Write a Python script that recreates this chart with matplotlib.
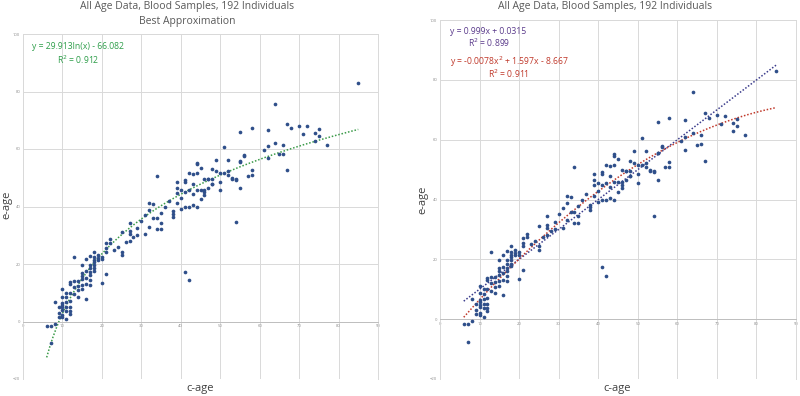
import numpy as np
import matplotlib.pyplot as plt

plt.rcParams['font.family'] = ['Open Sans', 'DejaVu Sans']

# chronological age (c-age) and epigenetic age (e-age)
c_age = [85, 64, 67, 68, 70, 72, 71, 74, 75, 75, 74, 77, 62, 58, 55, 62, 64, 66, 61, 62,
         66, 65, 67, 56, 55, 57, 58, 58, 55, 51, 49, 52, 48, 49, 50, 51, 52, 52, 53, 54,
         50, 50, 48, 47, 46, 45, 44, 44, 43, 42, 41, 41, 39, 39, 43, 44, 45, 46, 47, 42,
         40, 41, 43, 34, 39, 40,
         56, 55, 48, 48, 47, 46, 44, 53, 54,
         54, 41, 42, 44, 43, 42, 41, 40, 39, 38, 38, 38, 35, 35, 35, 34, 33, 34, 32, 32,
         33, 32, 31, 31, 29, 29, 27, 27, 27, 27, 25, 25, 25, 22, 22, 21, 21, 21, 20, 20,
         19, 21, 20,
         18, 18, 18, 18, 18, 18, 17, 17, 17, 17, 17, 16, 16, 16, 15, 15, 15, 15, 15, 14,
         14, 13, 13, 12, 12, 12, 12, 12, 12, 11, 11, 11, 11, 11, 10, 10, 10, 10, 10, 10,
         10, 9, 9, 8, 8, 7, 6, 7,
         17, 17, 16, 14, 13, 13, 19, 9, 10, 11, 12, 14, 16, 15, 18, 19,
         30, 36, 37, 28, 24, 26, 23, 45, 46]
e_age = [83.0, 75.8, 68.8, 67.3, 68.1, 67.9, 65.1, 65.5, 66.9, 64.5, 62.9, 61.4, 66.7, 67.4, 66.0, 60.9, 62.1, 61.5, 59.7, 56.7,
         58.4, 58.1, 52.8, 57.6, 55.6, 50.7, 50.9, 52.6, 46.5, 60.7, 56.2, 56.3, 52.9, 52.2, 51.6, 51.6, 52.3, 51.0, 49.6, 49.1,
         48.5, 45.6, 47.7, 49.4, 49.7, 53.5, 54.7, 51.5, 51.2, 51.6, 49.2, 48.5, 48.4, 46.5, 47.7, 45.9, 45.8, 45.8, 46.5, 45.6,
         45.6, 44.9, 44.2, 50.7, 44.7, 43.0,
         58.0, 55.7, 47.8, 49.6, 49.6, 45.0, 55.1, 50.0, 49.6,
         34.5, 17.3, 14.4, 40.0, 40.6, 39.8, 39.8, 39.1, 41.2, 38.3, 36.5, 37.4, 37.9, 34.4, 32.3, 32.3, 35.9, 35.9, 33.0, 41.2,
         40.9, 38.8, 37.1, 30.5, 30.1, 32.4, 34.4, 31.6, 30.5, 28.0, 31.2, 24.3, 23.1, 28.6, 27.4, 27.2, 25.5, 24.3, 22.3, 21.6,
         21.4, 16.5, 13.3,
         24.3, 22.6, 20.8, 19.7, 18.5, 17.7, 22.8, 19.7, 16.2, 14.4, 12.7, 21.6, 15.3, 8.0, 19.7, 17.0, 14.7, 12.7, 11.2, 10.9,
         8.6, 22.6, 14.2, 13.8, 13.0, 10.0, 7.2, 3.7, 2.6, 10.0, 6.9, 5.1, 3.7, 0.7, 11.2, 8.6, 5.7, 4.9, 4.0, 2.2,
         1.4, 5.1, 1.6, 6.9, -0.7, -1.6, -1.6, -7.6,
         18.5, 17.2, 17.5, 14.0, 12.0, 9.5, 23.0, 3.0, 6.5, 8.5, 5.0, 12.5, 13.0, 16.0, 21.5, 22.0,
         35.0, 40.0, 42.0, 29.5, 26.0, 27.5, 25.0, 42.5, 44.0]
c_age = np.array(c_age, dtype=float)
e_age = np.array(e_age, dtype=float)

# trendline coefficients as printed on the chart
log_a, log_b = 29.913, -66.082
lin_a, lin_b = 0.999, 0.0315
quad = [-0.0078, 1.597, -8.667]

W, H = 800, 396
fig = plt.figure(figsize=(8, 3.96), dpi=100)

grid_c = '#D9D9D9'
dot_c = '#2F4F8A'
txt_c = '#595959'


def fx(px):
    return px / W


def fy(py):
    return 1 - py / H


def style(ax):
    ax.set_xlim(0, 90)
    ax.set_ylim(-20, 100)
    ax.set_xticks(np.arange(0, 91, 10))
    ax.set_yticks(np.arange(-20, 101, 20))
    ax.grid(True, color=grid_c, lw=0.7)
    ax.set_axisbelow(True)
    for s in ax.spines.values():
        s.set_color(grid_c)
        s.set_linewidth(0.7)
    ax.spines['bottom'].set_position(('data', 0))
    ax.spines['bottom'].set_color('#BFBFBF')
    ax.axhline(-20, color=grid_c, lw=0.7)
    ax.tick_params(length=0, labelsize=3, labelcolor='#8C8C8C', pad=2)


# left panel: log fit
ax1 = fig.add_axes([fx(23), fy(379), fx(355), (379 - 34) / H])
style(ax1)
ax1.scatter(c_age, e_age, s=7, color=dot_c, lw=0, zorder=3)
tx = np.linspace(6, 85, 200)
ax1.plot(tx, log_a * np.log(tx) + log_b, color='#3A9A48', ls=(0, (1, 1.2)), lw=1.1, zorder=2)

fig.text(fx(187), fy(7), 'All Age Data, Blood Samples, 192 Individuals', ha='center', va='center',
         fontsize=7.5, color=txt_c)
fig.text(fx(187), fy(21.5), 'Best Approximation', ha='center', va='center', fontsize=7.5, color=txt_c)
fig.text(fx(78), fy(46.5), 'y = 29.913ln(x) - 66.082', ha='center', va='center', fontsize=6.2, color='#2E9E4A')
fig.text(fx(78), fy(60), 'R$^2$ = 0.912', ha='center', va='center', fontsize=6.2, color='#2E9E4A')
fig.text(fx(7), fy(205), 'e-age', ha='center', va='center', rotation=90, fontsize=8, color='#404040')
fig.text(fx(200), fy(388), 'c-age', ha='center', va='center', fontsize=8, color='#404040')

# right panel: linear and quadratic fits
ax2 = fig.add_axes([fx(440), fy(379), fx(356), (379 - 20) / H])
style(ax2)
ax2.scatter(c_age, e_age, s=7, color=dot_c, lw=0, zorder=3)
ax2.plot(tx, lin_a * tx + lin_b, color='#3B3C8C', ls=(0, (1, 1.2)), lw=1.1, zorder=2)
ax2.plot(tx, np.polyval(quad, tx), color='#C0392B', ls=(0, (1, 1.2)), lw=1.1, zorder=2)

fig.text(fx(605), fy(7), 'All Age Data, Blood Samples, 192 Individuals', ha='center', va='center',
         fontsize=7.5, color=txt_c)
fig.text(fx(488), fy(32), 'y = 0.999x + 0.0315', ha='center', va='center', fontsize=6.2, color='#5B3B8C')
fig.text(fx(489), fy(43), 'R$^2$ = 0.899', ha='center', va='center', fontsize=6.2, color='#5B3B8C')
fig.text(fx(509), fy(62), 'y = -0.0078x$^2$ + 1.597x - 8.667', ha='center', va='center', fontsize=6.2,
         color='#C0392B')
fig.text(fx(509), fy(74), 'R$^2$ = 0.911', ha='center', va='center', fontsize=6.2, color='#C0392B')
fig.text(fx(423), fy(200), 'e-age', ha='center', va='center', rotation=90, fontsize=8, color='#404040')
fig.text(fx(617), fy(388), 'c-age', ha='center', va='center', fontsize=8, color='#404040')

fig.savefig('out.png', dpi=100)
